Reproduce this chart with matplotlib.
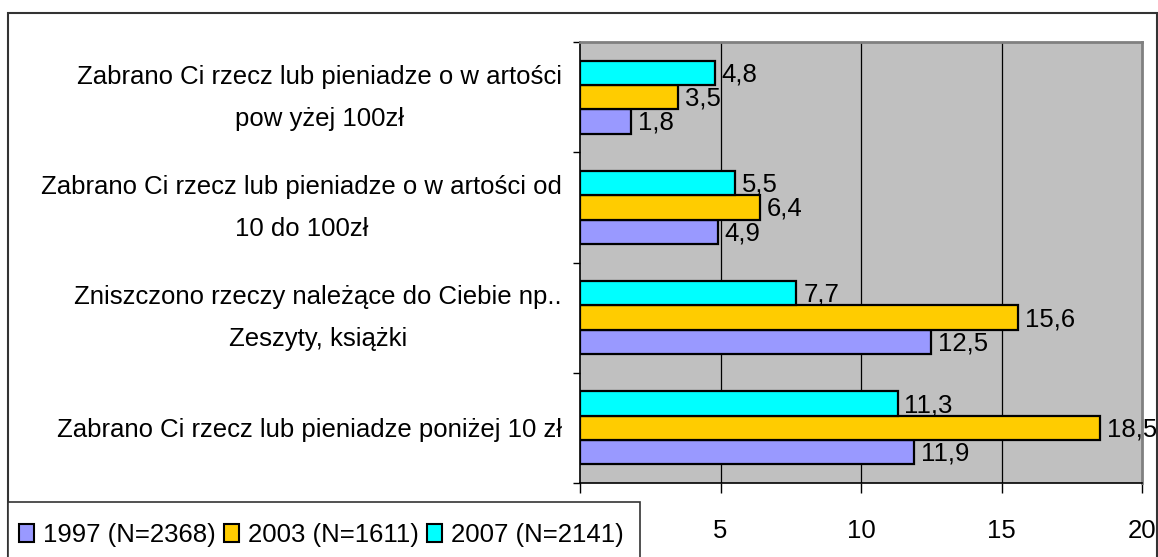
import matplotlib
matplotlib.use('Agg')
import matplotlib.pyplot as plt
from matplotlib.patches import Rectangle
import matplotlib.transforms as mtransforms
import numpy as np

plt.rcParams['font.family'] = ['Liberation Sans', 'DejaVu Sans']

# ---------------------------------------------------------
# Data (top category first)
# ---------------------------------------------------------
categories = [
    "Zabrano Ci rzecz lub pieniadze o w artości\npow yżej 100zł",
    "Zabrano Ci rzecz lub pieniadze o w artości od\n10 do 100zł",
    "Zniszczono rzeczy należące do Ciebie np..\nZeszyty, książki",
    "Zabrano Ci rzecz lub pieniadze poniżej 10 zł",
]
series_names = ["1997 (N=2368)", "2003 (N=1611)", "2007 (N=2141)"]
values_1997 = [1.8, 4.9, 12.5, 11.9]
values_2003 = [3.5, 6.4, 15.6, 18.5]
values_2007 = [4.8, 5.5, 7.7, 11.3]
x_ticks = [0, 5, 10, 15, 20]
x_tick_labels = ["", "5", "10", "15", "20"]  # 0 sits under the legend box

colors = ["#9999FF", "#FFCC00", "#00FFFF"]
FS = 18.5

fig = plt.figure(figsize=(11.58, 5.57), dpi=100)
ax = fig.add_axes([580 / 1158, 74 / 557, 562 / 1158, 441 / 557])
ax.set_facecolor("#C0C0C0")

y = np.arange(len(categories))
bar_h = 0.22
# within a group: 2007 on top, then 2003, then 1997
offsets = [bar_h, 0.0, -bar_h]
all_series = [values_1997, values_2003, values_2007]

for vals, off, col in zip(all_series, offsets, colors):
    bars = ax.barh(y + off, vals, height=bar_h, color=col,
                   edgecolor="black", linewidth=1.6, zorder=3)
    for rect, v in zip(bars, vals):
        ax.annotate(f"{v:.1f}".replace(".", ","),
                    (rect.get_width(), rect.get_y() + rect.get_height() / 2),
                    xytext=(5, -1), textcoords="offset points",
                    ha="left", va="center", fontsize=FS, zorder=5,
                    annotation_clip=False)

ax.set_xlim(0, 20)
ax.set_ylim(len(categories) - 0.5, -0.5)

# vertical gridlines
for xv in x_ticks[1:-1]:
    ax.axvline(xv, color="black", linewidth=0.9, zorder=1)

ax.set_xticks(x_ticks)
ax.set_xticklabels(x_tick_labels, fontsize=FS)
ax.tick_params(axis="x", direction="out", length=7, width=1, pad=19)

ax.set_yticks(y)
ax.set_yticklabels(categories, fontsize=FS, ha="right",
                   multialignment="center", linespacing=1.95)
ax.set_yticks(np.arange(-0.5, len(categories), 1.0), minor=True)
ax.tick_params(axis="y", which="major", length=0, pad=13)
ax.tick_params(axis="y", which="minor", direction="out", length=5, width=1)

# two-line labels sit a bit low with the wide line spacing; nudge them up
lift = mtransforms.ScaledTranslation(0, 11 / 100, fig.dpi_scale_trans)
for lbl in ax.get_yticklabels():
    if "\n" in lbl.get_text():
        lbl.set_transform(lbl.get_transform() + lift)

for side in ["top", "right"]:
    ax.spines[side].set_color("#808080")
    ax.spines[side].set_linewidth(2)
for side in ["left", "bottom"]:
    ax.spines[side].set_color("black")
    ax.spines[side].set_linewidth(1.2)

# outer chart border and legend box
fig.patches.append(Rectangle((8 / 1158, -0.1), 1149 / 1158, 0.1 + 544 / 557,
                             transform=fig.transFigure, fill=False,
                             edgecolor="#333333", linewidth=1.5, zorder=1))
fig.patches.append(Rectangle((8 / 1158, -0.1), 632 / 1158, 0.1 + 55 / 557,
                             transform=fig.transFigure, facecolor="white",
                             edgecolor="#333333", linewidth=1.2, zorder=2))

handles = [Rectangle((0, 0), 1, 1, facecolor=c, edgecolor="black", linewidth=1.5)
           for c in colors]
leg = fig.legend(handles, series_names, loc="center left",
                 bbox_to_anchor=(19 / 1158, 22 / 557), ncol=3, frameon=False,
                 fontsize=FS, handlelength=0.6, handleheight=0.7,
                 handletextpad=0.35, columnspacing=0.3, borderpad=0, borderaxespad=0)
leg.set_zorder(3)

fig.savefig("out.png", dpi=100)
